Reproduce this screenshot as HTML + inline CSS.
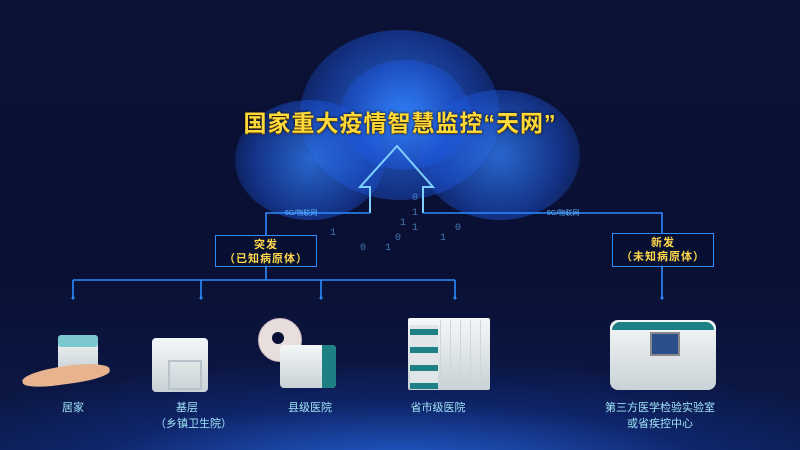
<!DOCTYPE html>
<html><head><meta charset="utf-8"><style>
*{margin:0;padding:0}
body{width:800px;height:450px;overflow:hidden;background:#0a0f2e;font-family:"Liberation Sans","Noto Sans CJK SC",sans-serif;position:relative}
.bg{position:absolute;inset:0;background:
radial-gradient(ellipse 520px 110px at 400px 470px,rgba(40,110,240,.85),rgba(20,60,170,.35) 60%,transparent 100%),
linear-gradient(#0b1236,#0a1034 60%,#0c1a4a)}
.t{position:absolute;white-space:nowrap}
.title{left:0;width:800px;top:104px;text-align:center;font-size:23px;font-weight:bold;color:#ffd93a;letter-spacing:1px;text-shadow:0 0 3px #000,0 1px 0 #a07000}
.box{position:absolute;border:1.5px solid #2f8cff;background:rgba(5,15,50,.6);color:#ffd94a;font-size:11px;font-weight:bold;text-align:center;line-height:14px;padding-top:2px;letter-spacing:1px}
.lab{position:absolute;color:#9fe3f5;font-size:11px;text-align:center;line-height:16px;white-space:nowrap}
.g5{position:absolute;color:#5fb4ff;font-size:7px}
.dev{position:absolute;background:linear-gradient(#f4f7f8,#c9d2d6);border-radius:4px}
.c{position:absolute;border-radius:50%;background:radial-gradient(circle,rgba(50,130,255,.75),rgba(30,90,230,.45) 60%,rgba(20,60,200,0) 100%)}
</style></head><body>
<div class="bg"></div>
<div class="c" style="left:300px;top:30px;width:200px;height:170px"></div>
<div class="c" style="left:235px;top:100px;width:150px;height:120px"></div>
<div class="c" style="left:420px;top:90px;width:160px;height:130px"></div>
<div class="c" style="left:340px;top:60px;width:130px;height:110px"></div>
<svg width="800" height="450" style="position:absolute;left:0;top:0">
<g fill="#6ab8ff" opacity=".6" font-family="Liberation Mono" font-size="10">
<text x="395" y="240">0</text><text x="400" y="225">1</text><text x="385" y="250">1</text><text x="412" y="200">0</text><text x="412" y="215">1</text><text x="412" y="230">1</text><text x="360" y="250">0</text><text x="440" y="240">1</text><text x="455" y="230">0</text><text x="330" y="235">1</text>
</g>
<g fill="none" stroke="#2c8aff" stroke-width="1.6">
<path d="M370 213 V187 H360 L397 146 L433 187 H423 V213" stroke="#7fd0ff" stroke-width="2"/>
<path d="M370 213 H266 V235"/>
<path d="M423 213 H662 V233"/>
<path d="M266 265 V280"/>
<path d="M73 280 H455"/>
<path d="M73 280 V297 M201 280 V297 M321 280 V297 M455 280 V297"/>
<path d="M662 265 V297"/>
</g>
<g fill="#2c8aff"><circle cx="73" cy="298" r="1.5"/><circle cx="201" cy="298" r="1.5"/><circle cx="321" cy="298" r="1.5"/><circle cx="455" cy="298" r="1.5"/><circle cx="662" cy="298" r="1.5"/></g>
</svg>
<div class="t title">国家重大疫情智慧监控“天网”</div>
<div class="g5" style="left:285px;top:208px">5G/物联网</div>
<div class="g5" style="left:547px;top:208px">5G/物联网</div>
<div class="box" style="left:215px;top:235px;width:100px;height:28px">突发<br>（已知病原体）</div>
<div class="box" style="left:612px;top:233px;width:100px;height:30px">新发<br>（未知病原体）</div>
<!-- home -->
<div class="dev" style="left:58px;top:335px;width:40px;height:36px"></div>
<div style="position:absolute;left:58px;top:335px;width:40px;height:12px;background:#7cc8cf;border-radius:3px"></div>
<div style="position:absolute;left:22px;top:366px;width:88px;height:18px;background:#e7b48f;border-radius:50% 50% 40% 40%;transform:rotate(-8deg)"></div>
<!-- base -->
<div class="dev" style="left:152px;top:338px;width:56px;height:54px"></div>
<div style="position:absolute;left:168px;top:360px;width:30px;height:26px;border:2px solid #b8c4cc"></div>
<!-- county -->
<div style="position:absolute;left:258px;top:318px;width:42px;height:42px;border-radius:50%;background:#e8dede;border:1px solid #cdb7bd"></div>
<div style="position:absolute;left:272px;top:332px;width:12px;height:12px;border-radius:50%;background:#0a1034"></div>
<div class="dev" style="left:280px;top:345px;width:56px;height:43px"></div>
<div style="position:absolute;left:322px;top:345px;width:14px;height:43px;background:#1e8084;border-radius:0 4px 4px 0"></div>
<!-- province -->
<div class="dev" style="left:408px;top:318px;width:82px;height:72px;border-radius:2px"></div>
<div style="position:absolute;left:410px;top:325px;width:28px;height:64px;background:repeating-linear-gradient(#e0e6e8 0 4px,#1e8084 4px 10px,#e0e6e8 10px 18px)"></div>
<div style="position:absolute;left:440px;top:320px;width:48px;height:68px;background:repeating-linear-gradient(90deg,#cfd6da 0 1px,transparent 1px 10px)"></div>
<!-- third -->
<div class="dev" style="left:610px;top:320px;width:106px;height:70px;border-radius:8px"></div>
<div style="position:absolute;left:612px;top:322px;width:102px;height:8px;background:#1e8084;border-radius:8px 8px 0 0"></div>
<div style="position:absolute;left:650px;top:332px;width:26px;height:20px;background:#2a4f8a;border:2px solid #888"></div>
<div class="lab" style="left:43px;top:400px;width:60px">居家</div>
<div class="lab" style="left:155px;top:400px;width:64px">基层<br>（乡镇卫生院）</div>
<div class="lab" style="left:272px;top:400px;width:76px">县级医院</div>
<div class="lab" style="left:400px;top:400px;width:76px">省市级医院</div>
<div class="lab" style="left:590px;top:400px;width:140px">第三方医学检验实验室<br>或省疾控中心</div>
</body></html>
